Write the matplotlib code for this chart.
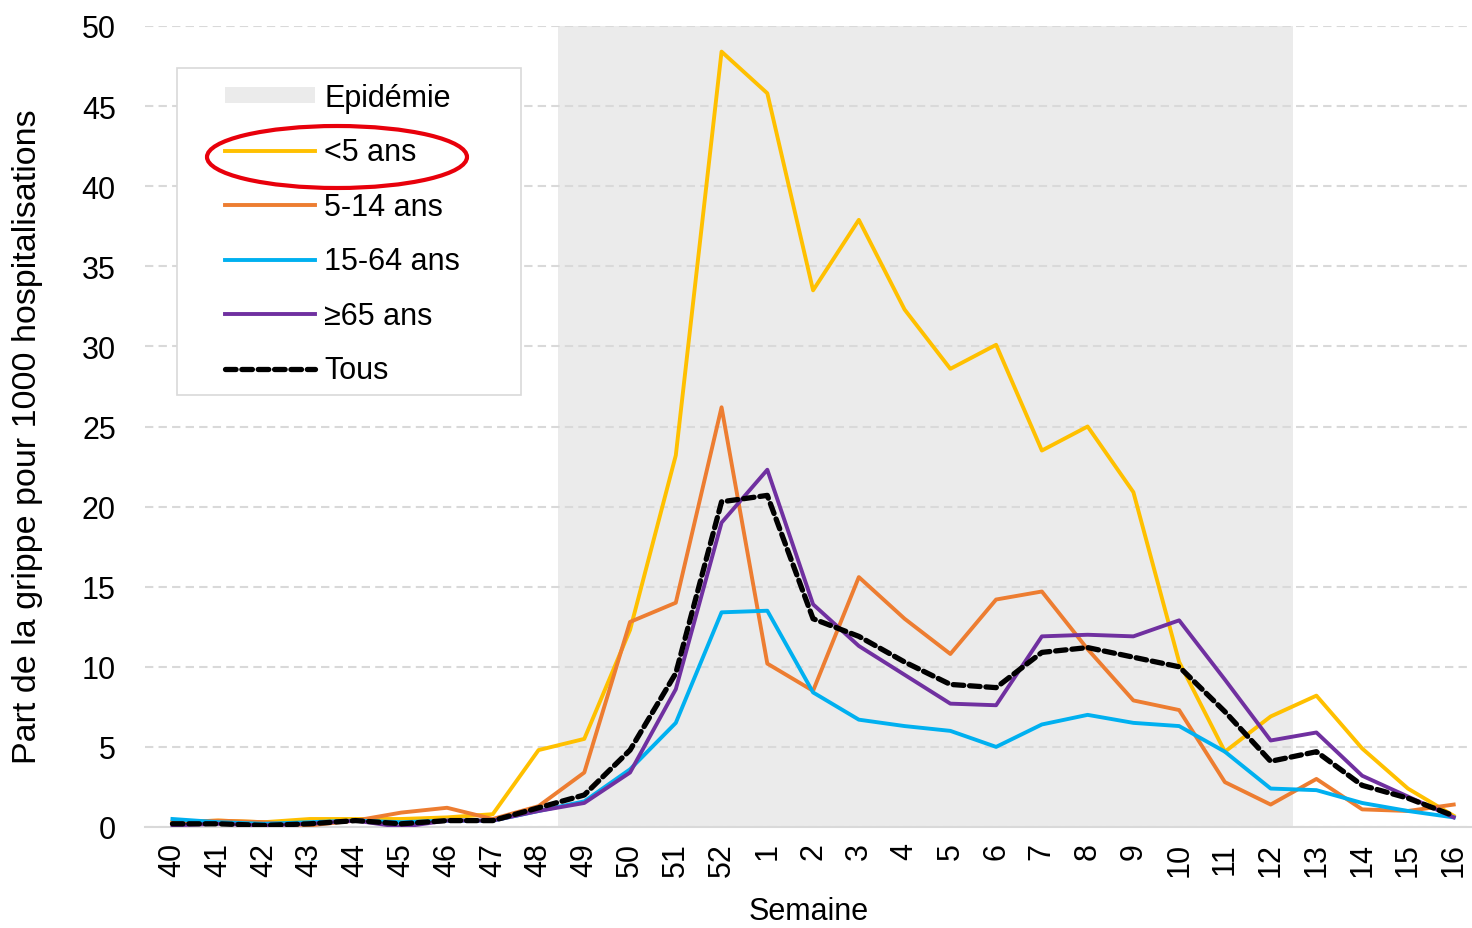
import matplotlib.pyplot as plt
from matplotlib.patches import Patch, Ellipse, Rectangle
from matplotlib.lines import Line2D

plt.rcParams['font.family'] = ['Liberation Sans', 'DejaVu Sans']

# Data
weeks = ["40", "41", "42", "43", "44", "45", "46", "47", "48", "49", "50", "51", "52",
         "1", "2", "3", "4", "5", "6", "7", "8", "9", "10", "11", "12", "13", "14", "15", "16"]
under5 = [0.3, 0.4, 0.3, 0.5, 0.5, 0.5, 0.6, 0.8, 4.8, 5.5, 12.3, 23.2, 48.4,
          45.8, 33.5, 37.9, 32.3, 28.6, 30.1, 23.5, 25.0, 20.9, 10.3, 4.7, 6.9, 8.2, 4.9, 2.4, 0.7]
age5_14 = [0.3, 0.4, 0.3, 0.1, 0.4, 0.9, 1.2, 0.5, 1.3, 3.4, 12.8, 14.0, 26.2,
           10.2, 8.5, 15.6, 13.0, 10.8, 14.2, 14.7, 11.1, 7.9, 7.3, 2.8, 1.4, 3.0, 1.1, 1.0, 1.4]
age15_64 = [0.5, 0.3, 0.2, 0.3, 0.4, 0.3, 0.4, 0.4, 1.0, 1.6, 3.6, 6.5, 13.4,
            13.5, 8.4, 6.7, 6.3, 6.0, 5.0, 6.4, 7.0, 6.5, 6.3, 4.7, 2.4, 2.3, 1.5, 1.0, 0.6]
over65 = [0.1, 0.2, 0.1, 0.2, 0.4, 0.0, 0.4, 0.4, 1.0, 1.5, 3.4, 8.6, 19.0,
          22.3, 13.9, 11.3, 9.5, 7.7, 7.6, 11.9, 12.0, 11.9, 12.9, 9.2, 5.4, 5.9, 3.2, 1.9, 0.6]
tous = [0.2, 0.2, 0.1, 0.2, 0.4, 0.2, 0.4, 0.4, 1.2, 2.0, 4.8, 9.6, 20.3,
        20.7, 13.0, 11.9, 10.3, 8.9, 8.7, 10.9, 11.2, 10.6, 10.0, 7.2, 4.1, 4.7, 2.6, 1.8, 0.7]
epidemic_start, epidemic_end = "49", "12"

colors = {
    "under5": "#FFC000",
    "5-14": "#ED7D31",
    "15-64": "#00B0F0",
    "65+": "#7030A0",
    "tous": "black",
    "epi": "#EBEBEB",
}
LW = 2.8
DASH = (0, (2.0, 1.1))
FS = 22

fig = plt.figure(figsize=(14.72, 9.29), dpi=100)
ax = fig.add_axes([145 / 1472, 1 - 828 / 929, (1472 - 145) / 1472, (828 - 27) / 929])

x = list(range(len(weeks)))
i0 = weeks.index(epidemic_start)
i1 = weeks.index(epidemic_end)
ax.axvspan(i0 - 0.58, i1 + 0.48, color=colors["epi"], lw=0, zorder=0)

ax.plot(x, under5, color=colors["under5"], lw=LW, zorder=3)
ax.plot(x, age5_14, color=colors["5-14"], lw=LW, zorder=3)
ax.plot(x, age15_64, color=colors["15-64"], lw=LW, zorder=3)
ax.plot(x, over65, color=colors["65+"], lw=LW, zorder=3)
ax.plot(x, tous, color=colors["tous"], lw=3.8, ls=DASH, dash_capstyle='round', zorder=4)

ax.set_ylim(0, 50)
ax.set_xlim(-0.6, len(weeks) - 0.6)
ax.set_yticks(range(0, 51, 5))
ax.set_xticks(x)
ax.set_xticklabels(weeks, rotation=90)
ax.tick_params(axis='both', length=0, labelsize=FS, colors='black')
ax.tick_params(axis='y', pad=21)
ax.tick_params(axis='x', pad=11)
ax.grid(axis='y', color='#D9D9D9', ls=(0, (4, 2.5)), lw=1.5, zorder=1)
ax.set_axisbelow(True)
for s in ['top', 'right', 'left']:
    ax.spines[s].set_visible(False)
ax.spines['bottom'].set_color('#D9D9D9')
ax.spines['bottom'].set_linewidth(1.5)

ax.set_ylabel("Part de la grippe pour 1000 hospitalisations", fontsize=24.5)
ax.yaxis.set_label_coords(-0.077, 0.488)
ax.set_xlabel("Semaine", fontsize=FS, labelpad=14)

# legend box (frame drawn separately so it can be sized like the original)
ax.add_patch(Rectangle((177 / 1472, 1 - 396 / 929), (521 - 177) / 1472, (396 - 69) / 929,
                       transform=fig.transFigure, facecolor='white', edgecolor='#D9D9D9',
                       lw=1.2, zorder=5, clip_on=False))
handles = [
    Patch(facecolor=colors["epi"], edgecolor='none'),
    Line2D([], [], color=colors["under5"], lw=LW),
    Line2D([], [], color=colors["5-14"], lw=LW),
    Line2D([], [], color=colors["15-64"], lw=LW),
    Line2D([], [], color=colors["65+"], lw=LW),
    Line2D([], [], color='black', lw=3.8, ls=DASH, dash_capstyle='round'),
]
labels = ["Epidémie", "<5 ans", "5-14 ans", "15-64 ans", "≥65 ans", "Tous"]
leg = ax.legend(handles, labels, loc='upper left',
                bbox_to_anchor=(225 / 1472, 1 - 84 / 929), bbox_transform=fig.transFigure,
                fontsize=FS, frameon=False, handlelength=2.95, handleheight=0.45,
                labelspacing=0.80, borderpad=0, handletextpad=0.3, borderaxespad=0)
leg.set_zorder(6)

# red highlight around "<5 ans"
ell = Ellipse((337 / 1472, 1 - 158 / 929), 260 / 1472, 62 / 929,
              transform=fig.transFigure, fill=False, edgecolor='#E8000B', lw=3, zorder=10)
fig.patches.append(ell)

fig.savefig("out.png", dpi=100)
